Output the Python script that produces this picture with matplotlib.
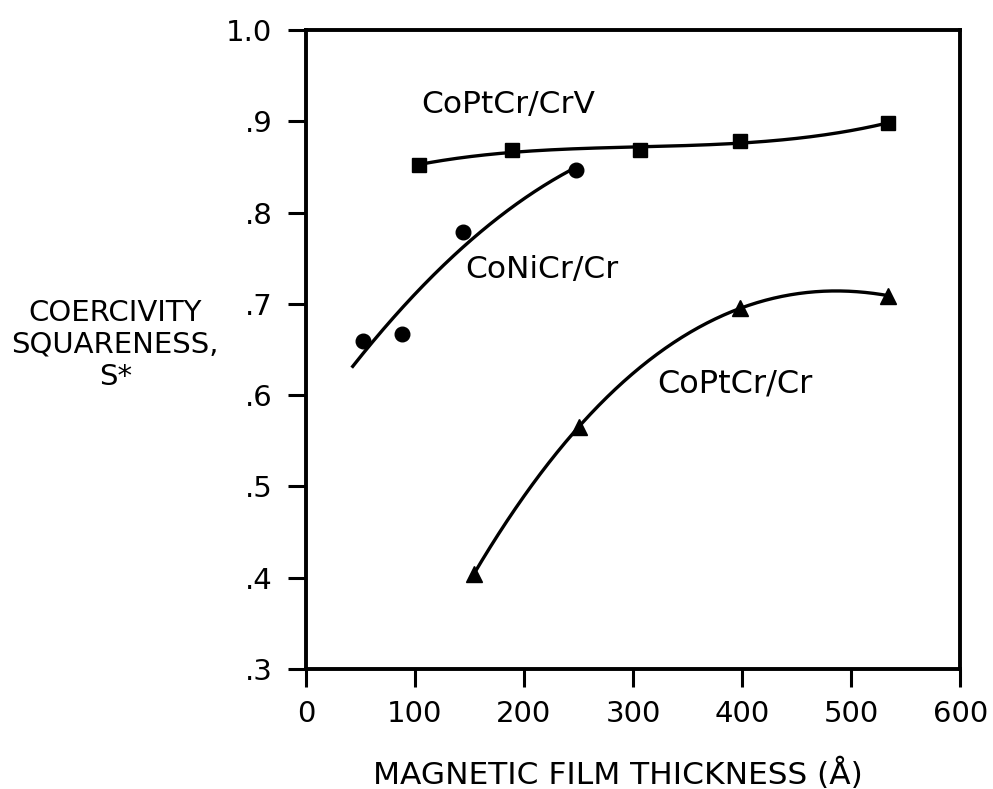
import numpy as np
import matplotlib.pyplot as plt

# data
x_crv = [104, 189, 306, 398, 534]
y_crv = [0.852, 0.868, 0.869, 0.878, 0.898]

x_conicr = [52, 88, 144, 248]
y_conicr = [0.659, 0.667, 0.779, 0.847]

x_coptcr = [154, 250, 398, 534]
y_coptcr = [0.404, 0.565, 0.695, 0.709]

xticks = [0, 100, 200, 300, 400, 500, 600]
yticks = [0.3, 0.4, 0.5, 0.6, 0.7, 0.8, 0.9, 1.0]
ytick_labels = ['.3', '.4', '.5', '.6', '.7', '.8', '.9', '1.0']

plt.rcParams['font.family'] = ['DejaVu Sans']

fig = plt.figure(figsize=(9.93, 7.89), dpi=100)
ax = fig.add_axes([0.308, 0.152, 0.659, 0.810])

# smooth fitted curves
p = np.polyfit(x_crv, y_crv, 3)
xs = np.linspace(x_crv[0], x_crv[-1], 200)
ax.plot(xs, np.polyval(p, xs), color='black', lw=2.4)

p = np.polyfit(x_conicr, y_conicr, 2)
xs = np.linspace(43, x_conicr[-1], 200)
ax.plot(xs, np.polyval(p, xs), color='black', lw=2.4)

p = np.polyfit(x_coptcr, y_coptcr, 3)
xs = np.linspace(x_coptcr[0], x_coptcr[-1], 200)
ax.plot(xs, np.polyval(p, xs), color='black', lw=2.4)

ax.plot(x_crv, y_crv, 's', color='black', ms=10.5)
ax.plot(x_conicr, y_conicr, 'o', color='black', ms=10.5)
ax.plot(x_coptcr, y_coptcr, '^', color='black', ms=12)

ax.text(106, 0.918, 'CoPtCr/CrV', fontsize=22.5, va='center')
ax.text(146, 0.738, 'CoNiCr/Cr', fontsize=22.5, va='center')
ax.text(322, 0.612, 'CoPtCr/Cr', fontsize=23, va='center')

ax.set_xlim(0, 600)
ax.set_ylim(0.3, 1.0)
ax.set_xticks(xticks)
ax.set_yticks(yticks)
ax.set_yticklabels(ytick_labels)
ax.tick_params(labelsize=21, length=13, width=2.2, direction='out')
ax.tick_params(axis='y', pad=11)
ax.tick_params(axis='x', pad=9)
for s in ax.spines.values():
    s.set_linewidth(2.8)

ax.set_xlabel('MAGNETIC FILM THICKNESS (Å)', fontsize=22.5, va='center')
ax.xaxis.set_label_coords(0.477, -0.164)
fig.text(0.116, 0.563, 'COERCIVITY\nSQUARENESS,\nS*', fontsize=21,
         ha='center', va='center', linespacing=1.17)

fig.savefig('out.png', dpi=100)
